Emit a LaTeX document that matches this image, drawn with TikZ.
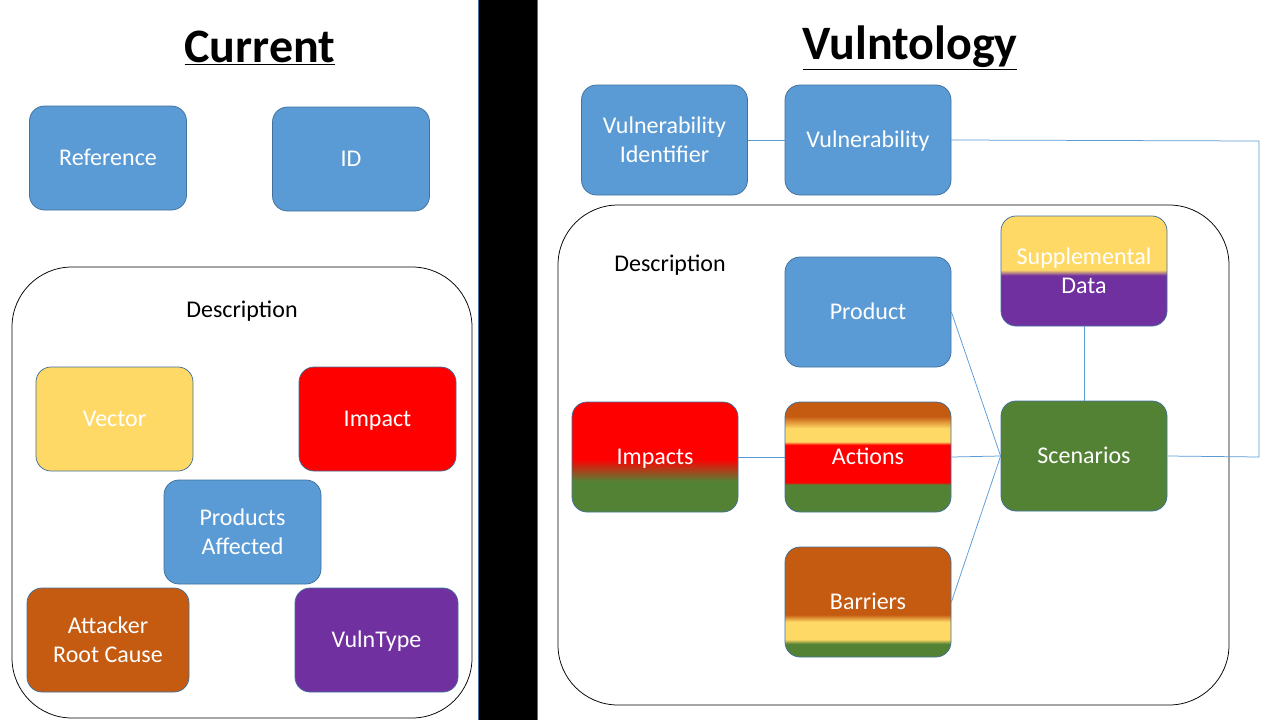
\documentclass[tikz,border=0pt]{standalone}
\usepackage{fontspec}
\setmainfont{Carlito}
\definecolor{cblue}{HTML}{5B9BD5}
\definecolor{cborder}{HTML}{41719C}
\definecolor{cyellow}{HTML}{FFD966}
\definecolor{cred}{HTML}{FF0000}
\definecolor{cgreen}{HTML}{548235}
\definecolor{corange}{HTML}{C55A11}
\definecolor{cpurple}{HTML}{7030A0}
\pgfdeclareverticalshading{impactsS}{100bp}{color(0bp)=(cgreen); color(39bp)=(cgreen); color(49bp)=(cred); color(100bp)=(cred)}
\pgfdeclareverticalshading{actionsS}{100bp}{color(0bp)=(cgreen); color(37.5bp)=(cgreen); color(38.5bp)=(cred); color(55.5bp)=(cred); color(57bp)=(cyellow); color(63bp)=(cyellow); color(68.5bp)=(corange); color(100bp)=(corange)}
\pgfdeclareverticalshading{barriersS}{100bp}{color(0bp)=(cgreen); color(31bp)=(cgreen); color(33bp)=(cyellow); color(41bp)=(cyellow); color(44.25bp)=(corange); color(100bp)=(corange)}
\pgfdeclareverticalshading{suppS}{100bp}{color(0bp)=(cpurple); color(48bp)=(cpurple); color(50.5bp)=(cyellow); color(100bp)=(cyellow)}
\tikzset{
  box/.style={rounded corners=15pt, draw=cborder, line width=0.75pt, text=white,
    font=\fontsize{24}{29}\selectfont, align=center, inner sep=0pt},
  lbox/.style={box, minimum width=157pt, minimum height=104pt},
  rbox/.style={box, minimum width=166pt, minimum height=110pt},
  oneline/.style={text height=15.5pt, text depth=0pt},
  desc/.style={rounded corners=60pt, draw=black, line width=0.75pt, fill=white},
  dlabel/.style={font=\fontsize{24}{29}\selectfont, text=black},
  title/.style={font=\fontsize{48}{56}\selectfont\bfseries, text=black},
  conn/.style={draw=cblue, line width=0.75pt},
}
\begin{document}
\begin{tikzpicture}[x=1pt,y=-1pt]
\useasboundingbox (0,0) rectangle (1280,720);
\fill[white] (0,0) rectangle (1280,720);
% separator
\node[draw=cborder, fill=black, line width=0.75pt, minimum width=59pt, minimum height=722pt, inner sep=0pt] (sep) at (507.5,360) {};
% titles
\node[title] (tcur) at (260,48) {\underline{Current}};
\node[title] (tvul) at (910,48) {\underline{Vulntology}};
% left side
\node[lbox, oneline, fill=cblue] (ref) at (108,158) {Reference};
\node[lbox, oneline, fill=cblue] (id) at (351,159) {ID};
\draw[desc] (12,267) rectangle (472,718);
\node[dlabel] (ldesc) at (242,311) {Description};
\node[lbox, oneline, fill=cyellow] (vector) at (114.5,419) {Vector};
\node[lbox, oneline, fill=cred] (impact) at (377.5,419) {Impact};
\node[lbox, fill=cblue] (prod) at (242.5,532) {Products\\Affected};
\node[lbox, fill=corange, minimum width=162pt] (att) at (108,640) {Attacker\\Root Cause};
\node[lbox, oneline, fill=cpurple, minimum width=163pt] (vtype) at (376.5,640) {VulnType};
% right side
\node[rbox, fill=cblue] (vid) at (664.5,140) {Vulnerability\\Identifier};
\node[rbox, oneline, fill=cblue] (vuln) at (868,140) {Vulnerability};
\draw[desc] (558,205) rectangle (1229,705);
\node[dlabel] (rdesc) at (670,265) {Description};
\node[rbox, oneline, fill=cblue] (product) at (868,312) {Product};
\node[rbox, shade, shading=suppS] (supp) at (1084,271) {Supplemental\\Data};
\node[rbox, oneline, shade, shading=impactsS] (impacts) at (655,457) {Impacts};
\node[rbox, oneline, shade, shading=actionsS] (actions) at (868,457) {Actions};
\node[rbox, oneline, fill=cgreen] (scen) at (1084,456) {Scenarios};
\node[rbox, oneline, shade, shading=barriersS] (barr) at (868,602) {Barriers};
% connectors
\coordinate (c1) at (1259,141);
\coordinate (c2) at (1259,457);
\draw[conn] (vid.east) -- (vuln.west);
\draw[conn] (vuln.east) -- (c1) -- (c2) -- (scen.east);
\draw[conn] (product.east) -- (scen.west);
\draw[conn] (actions.east) -- (scen.west);
\draw[conn] (barr.east) -- (scen.west);
\draw[conn] (impacts.east) -- (actions.west);
\draw[conn] (supp.south) -- (scen.north);
\end{tikzpicture}
\end{document}
